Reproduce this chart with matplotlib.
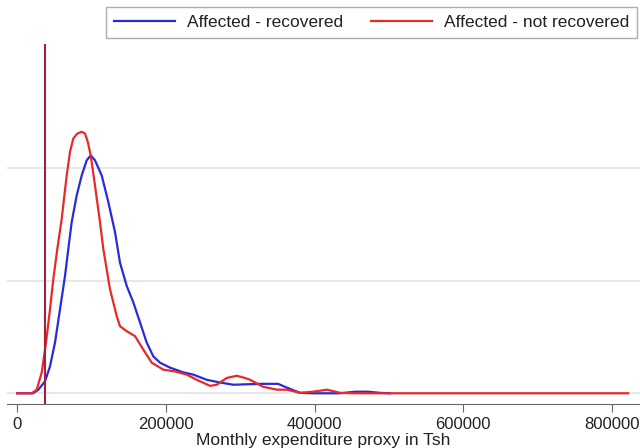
import matplotlib
matplotlib.use("Agg")
import matplotlib.pyplot as plt

plt.rcParams['font.family'] = ['Liberation Sans', 'DejaVu Sans']

# Kernel density estimates (density in units of 1e-6)
rec_x = [0, 21131, 28265, 37281, 44012, 50741, 57470, 64200, 68641, 73217, 79946,
         86675, 93404, 98789, 104577, 113594, 122477, 131494, 138224, 147242,
         156125, 165143, 174161, 183026, 192044, 205504, 223403, 236862, 254898,
         272798, 290715, 308750, 330689, 350878, 362991, 380488, 397984, 434324,
         454513, 472010, 488161, 501620]
rec_y = [0, 0, 0.16, 0.53, 1.20, 2.25, 3.73, 5.21, 6.41, 7.61, 8.79,
         9.68, 10.35, 10.57, 10.35, 9.68, 8.50, 7.16, 5.80, 4.77,
         4.04, 3.15, 2.25, 1.64, 1.36, 1.14, 0.93, 0.83, 0.60,
         0.48, 0.38, 0.40, 0.42, 0.42, 0.25, 0.02, 0.0, 0.0,
         0.07, 0.07, 0.02, 0.0]

nrec_x = [0, 19381, 26111, 32840, 38627, 44012, 48454, 53836, 59758, 66487, 70929,
          75370, 80754, 86675, 91117, 94751, 98789, 104577, 111306, 115747, 118036,
          124770, 133787, 138224, 147242, 158413, 169584, 180890, 196502, 212249,
          227997, 241456, 259356, 268374, 281833, 295292, 306464, 313192, 330689,
          349531, 362991, 380488, 397984, 416827, 434324, 451821, 822000]
nrec_y = [0, 0, 0.16, 0.92, 2.25, 3.73, 5.07, 6.41, 7.75, 9.68, 10.73,
          11.32, 11.54, 11.62, 11.54, 11.18, 10.57, 9.23, 7.60, 6.41, 5.96,
          4.62, 3.43, 2.98, 2.76, 2.54, 1.94, 1.36, 1.05, 0.97,
          0.83, 0.60, 0.33, 0.38, 0.68, 0.78, 0.68, 0.60, 0.29,
          0.16, 0.16, 0.02, 0.07, 0.16, 0.02, 0.0, 0.0]

poverty_line = 37280
xticks = [0, 200000, 400000, 600000, 800000]
ygrid = [0, 5, 10]

fig = plt.figure(figsize=(6.4, 4.48), dpi=100)
ax = fig.add_axes([0.0114, 0.0975, 0.9886, 0.8043])

for g in ygrid:
    ax.axhline(g, color='#e6e6e6', lw=1.3, zorder=0)

ax.plot(rec_x, rec_y, color='#2b2bd6', lw=1.6, label='Affected - recovered',
        zorder=3, solid_joinstyle='round')
ax.plot(nrec_x, nrec_y, color='#e62a2a', lw=1.6, label='Affected - not recovered',
        zorder=3, solid_joinstyle='round')
ax.axvline(poverty_line, color='#a2203e', lw=1.5, zorder=4)

ax.set_xlim(-13460, 838000)
ax.set_ylim(-0.49, 15.52)
ax.set_xticks(xticks)
ax.set_xticklabels([str(t) for t in xticks], fontsize=12)
ax.set_yticks([])
for s in ['left', 'right', 'top']:
    ax.spines[s].set_visible(False)
ax.spines['bottom'].set_color('#666666')
ax.tick_params(axis='x', length=6, color='#666666', pad=3, labelcolor='#222222')
ax.set_xlabel('Monthly expenditure proxy in Tsh', fontsize=12.5, labelpad=1,
              color='#222222')

leg = fig.legend(loc='upper right', bbox_to_anchor=(637/640, 1 - 7/448), ncol=2,
                 fontsize=12.5, frameon=True, fancybox=False, edgecolor='#999999',
                 handlelength=3.5, handletextpad=0.7, columnspacing=1.6,
                 borderpad=0.45, borderaxespad=0)
leg.get_frame().set_linewidth(1.0)
for t in leg.get_texts():
    t.set_color('#222222')

fig.savefig('out.png', dpi=100)
